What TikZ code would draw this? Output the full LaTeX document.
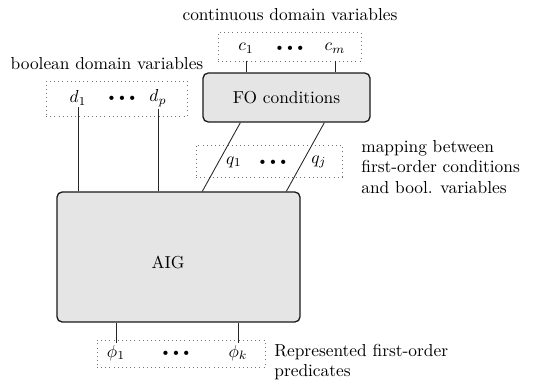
\documentclass[tikz,border=0pt]{standalone}
\usetikzlibrary{calc}
\newcommand{\bdots}{\ensuremath{\scriptscriptstyle\bullet\hspace{2.3pt}\bullet\hspace{2.3pt}\bullet}}
\begin{document}
\begin{tikzpicture}[x=0.576pt,y=-0.576pt,
  blockbox/.style={draw=black!90,line width=0.75pt,fill=black!10,rounded corners=3pt,inner sep=0pt},
  varbox/.style={draw=black!55,dotted,line width=0.4pt,inner sep=0pt},
  var/.style={inner sep=1pt},
  wire/.style={draw=black!85,line width=0.5pt},
  lbl/.style={inner sep=0pt}]
\useasboundingbox (0,0) rectangle (538,384);
% continuous variables
\node[lbl] (clbl) at (290,15) {continuous domain variables};
\node[varbox,minimum width=82.4pt,minimum height=16.7pt] (cbox) at (289.5,46.5) {};
\node[var] (c1) at (246,48) {$c_1$};
\node[var] (cdots) at (290,48) {\bdots};
\node[var] (cm) at (335,48) {$c_m$};
% FO conditions
\node[blockbox,minimum width=96.2pt,minimum height=28.2pt] (fo) at (286.5,97.5) {FO conditions};
% boolean variables
\node[lbl] (blbl) at (107,64) {boolean domain variables};
\node[varbox,minimum width=81.2pt,minimum height=20.2pt] (dbox) at (116.5,98.5) {};
\node[var] (d1) at (78,98) {$d_1$};
\node[var] (ddots) at (122,98) {\bdots};
\node[var] (dp) at (158,98) {$d_p$};
% mapping
\node[varbox,minimum width=84.1pt,minimum height=18.4pt] (qbox) at (269,161) {};
\node[var] (q1) at (234,162) {$q_1$};
\node[var] (qdots) at (273,162) {\bdots};
\node[var] (qj) at (319,162) {$q_j$};
\node[lbl,anchor=west,align=left] (mlbl) at (361,167) {mapping between\\first-order conditions\\and bool. variables};
% AIG
\node[blockbox,minimum width=140pt,minimum height=74.9pt] (aig) at (178.5,257) {};
\node[lbl] (aiglbl) at (168,262) {AIG};
% predicates
\node[varbox,minimum width=96.8pt,minimum height=15.6pt] (pbox) at (181,353.5) {};
\node[var] (p1) at (116,353) {$\phi_1$};
\node[var] (pdots) at (176,353) {\bdots};
\node[var] (pk) at (238,353) {$\phi_k$};
\node[lbl,anchor=west,align=left] (plbl) at (274,362) {Represented first-order\\predicates};
% wires
\draw[wire] (c1 |- cbox.south) -- (c1 |- fo.north);
\draw[wire] (cm |- cbox.south) -- (cm |- fo.north);
\draw[wire] (d1.south) -- (d1 |- aig.north);
\draw[wire] (dp.south) -- (dp |- aig.north);
\draw[wire] ($(fo.south west)+(38,0)$) -- ($(aig.north west)+(146,0)$);
\draw[wire] ($(fo.south west)+(122,0)$) -- ($(aig.north west)+(230,0)$);
\draw[wire] (p1 |- aig.south) -- (p1.north);
\draw[wire] (pk |- aig.south) -- (pk.north);
\end{tikzpicture}
\end{document}
